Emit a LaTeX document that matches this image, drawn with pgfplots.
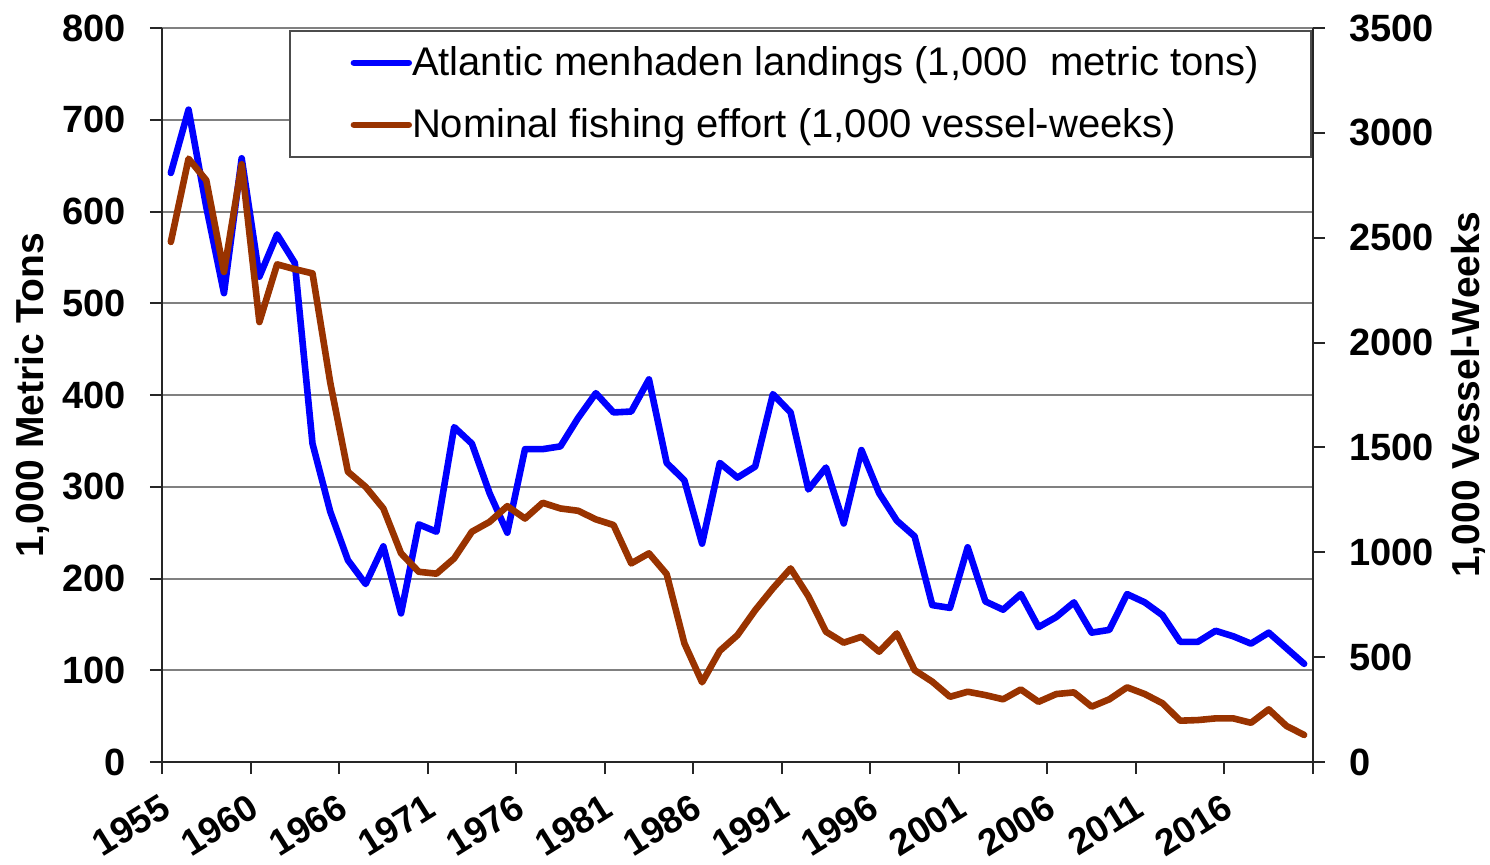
\documentclass[border=0pt]{standalone}
\usepackage{pgfplots}
\usepackage{pgfplotstable}
\pgfplotsset{compat=1.18}
\usepackage{fontspec}
\setmainfont{Liberation Sans}
\definecolor{lblue}{HTML}{0000FF}
\definecolor{ebrown}{HTML}{993300}

\pgfplotstableread{
x y
0 642
1 711
2 605
3 511
4 658
5 529
6 575
7 544
8 347
9 273
10 220
11 194
12 235
13 162
14 259
15 251
16 365
17 347
18 293
19 250
20 341
21 341
22 344
23 375
24 402
25 381
26 382
27 417
28 326
29 307
30 238
31 326
32 310
33 322
34 401
35 381
36 297
37 321
38 260
39 340
40 293
41 263
42 246
43 171
44 168
45 234
46 175
47 166
48 183
49 147
50 158
51 174
52 141
53 144
54 183
55 174
56 160
57 131
58 131
59 143
60 137
61 129
62 141
63 124
64 107
}\landings

\pgfplotstableread{
x y
0 2480
1 2877
2 2774
3 2337
4 2850
5 2098
6 2373
7 2350
8 2330
9 1810
10 1384
11 1312
12 1209
13 995
14 907
15 898
16 971
17 1098
18 1145
19 1220
20 1161
21 1236
22 1209
23 1198
24 1157
25 1130
26 947
27 995
28 896
29 566
30 380
31 530
32 605
33 724
34 828
35 923
36 791
37 621
38 569
39 597
40 526
41 613
42 438
43 383
44 311
45 335
46 319
47 299
48 346
49 287
50 324
51 332
52 264
53 299
54 356
55 324
56 280
57 197
58 200
59 208
60 208
61 187
62 251
63 172
64 129
}\effort

\pgfplotsset{
  common/.style={
    scale only axis, width=575.5pt, height=367pt,
    at={(0pt,0pt)}, anchor=south west,
    xmin=-0.5, xmax=64.5,
    tick align=outside, major tick length=6pt,
    tick style={black!85, line width=1pt},
    axis line style={black!85, line width=1pt},
    scaled ticks=false,
    /pgf/number format/1000 sep={},
    /pgf/number format/assume math mode=true,
    ticklabel style={font=\bfseries\fontsize{19}{19}\selectfont},
  }
}

\begin{document}
\begin{tikzpicture}
\useasboundingbox (-81pt,-51pt) rectangle (664pt,381pt);
\begin{axis}[
  common,
  ymin=0, ymax=800,
  axis x line*=bottom, axis y line*=left,
  xtick={-0.5,4.5,...,64.5}, xticklabels={},
  extra x ticks={0,5,...,60},
  extra x tick labels={1955,1960,1966,1971,1976,1981,1986,1991,1996,2001,2006,2011,2016},
  extra x tick style={major tick length=0pt},
  xticklabel style={yshift=-26pt, xshift=1pt, rotate=32, anchor=base east, inner sep=0pt,
    font=\bfseries\fontsize{18.5}{18.5}\selectfont},
  ytick={0,100,...,800},
  yticklabel style={inner xsep=0pt, xshift=-12pt},
  ymajorgrids, grid style={black!50, line width=1pt},
  every axis y label/.style={at={(axis description cs:-0.113,0.5)}, rotate=90, anchor=center,
    font=\bfseries\fontsize{19.5}{20}\selectfont},
  ylabel={1,000 Metric Tons},
  legend style={at={(1,1)}, anchor=north east, xshift=-0.5pt, yshift=-1pt,
    draw=black!70, line width=0.8pt, fill=white,
    font=\fontsize{20}{24}\selectfont,
    inner xsep=26pt, inner ysep=4pt, row sep=7pt,
    cells={anchor=west},
    nodes={inner xsep=0pt, inner ysep=4pt}},
  legend image code/.code={\path[draw=none] (0pt,0pt) -- (1pt,0pt);
    \draw[#1, line width=3.2pt, line cap=round] (6pt,0pt) -- (33.5pt,0pt);},
]
\addplot[lblue, line width=3.3pt, line join=round, line cap=round] table[x=x,y=y] {\landings};
\addlegendentry{Atlantic menhaden landings (1,000\ \ metric tons)}
\addlegendimage{ebrown, line width=3.2pt}
\addlegendentry{Nominal fishing effort (1,000 vessel-weeks)}
\end{axis}
\begin{axis}[
  common,
  ymin=0, ymax=3500,
  axis x line=none, axis y line*=right,
  ytick={0,500,...,3500},
  yticklabel style={inner xsep=0pt, xshift=12pt},
  every axis y label/.style={at={(axis description cs:1.1347,0.5)}, rotate=90, anchor=center,
    font=\bfseries\fontsize{19.5}{20}\selectfont},
  ylabel={1,000 Vessel-Weeks},
]
\addplot[ebrown, line width=3.3pt, line join=round, line cap=round] table[x=x,y=y] {\effort};
\end{axis}
\end{tikzpicture}
\end{document}
